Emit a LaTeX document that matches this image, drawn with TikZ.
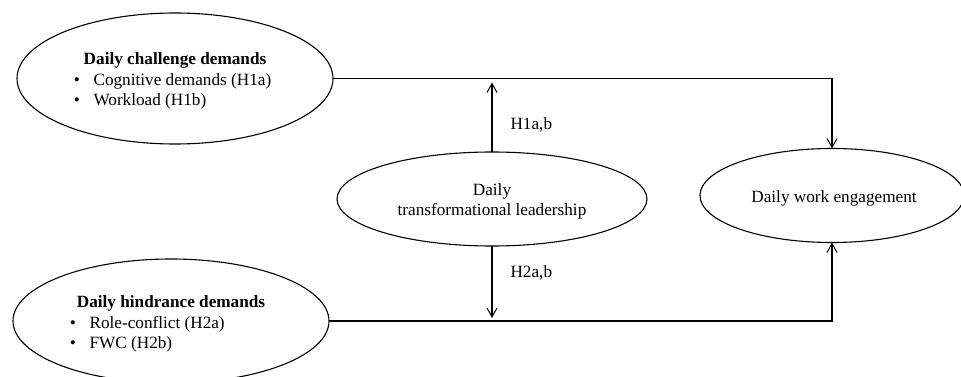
\documentclass[tikz,border=0pt]{standalone}
\usepackage{fontspec}
\setmainfont{Liberation Serif}
\usetikzlibrary{arrows.meta,shapes.geometric}
\begin{document}
\begin{tikzpicture}[x=1pt,y=-1pt,line width=1.1pt,
  oval/.style={draw,ellipse,inner sep=0pt,outer sep=0pt},
  txt/.style={inner sep=0pt,font=\fontsize{17.2}{20.5}\selectfont},
  arr/.style={-{Straight Barb[length=9pt,width=10pt,line width=1pt]}}]
\useasboundingbox (0,0) rectangle (961,377);
\clip (0,0) rectangle (961,377);
% ellipses
\node[oval,minimum width=316pt,minimum height=131pt] (C) at (175,78.5) {};
\node[oval,minimum width=316pt,minimum height=124pt] (H) at (171,321) {};
\node[oval,minimum width=310pt,minimum height=94pt] (M) at (492,199) {};
\node[oval,minimum width=264pt,minimum height=94pt] (E) at (832,195.5) {};
% texts
\node[txt,anchor=base,font=\fontsize{17.2}{20.5}\selectfont\bfseries] (ct) at (175,65) {Daily challenge demands};
\node[txt,anchor=base] (cb1) at (77,85.5) {•};
\node[txt,anchor=base west] (c1) at (93,85.5) {Cognitive demands (H1a)};
\node[txt,anchor=base] (cb2) at (77,106) {•};
\node[txt,anchor=base west] (c2) at (93,106) {Workload (H1b)};
\node[txt,anchor=base,font=\fontsize{17.2}{20.5}\selectfont\bfseries] (ht) at (171,307) {Daily hindrance demands};
\node[txt,anchor=base] (hb1) at (73,328) {•};
\node[txt,anchor=base west] (h1) at (89,328) {Role-conflict (H2a)};
\node[txt,anchor=base] (hb2) at (73,348.5) {•};
\node[txt,anchor=base west] (h2) at (89,348.5) {FWC (H2b)};
\node[txt,anchor=base] (m1) at (492,195) {Daily};
\node[txt,anchor=base] (m2) at (492,215) {transformational leadership};
\node[txt,anchor=base] (e1) at (834,202) {Daily work engagement};
\node[txt,anchor=base west] (l1) at (510,130) {H1a,b};
\node[txt,anchor=base west] (l2) at (510,277) {H2a,b};
% connectors
\coordinate (t1) at (M.north |- C.east);
\coordinate (t2) at (M.south |- H.east);
\draw[arr] (C.east) -| (E.north);
\draw[arr] (H.east) -| (E.south);
\draw[arr,shorten >=4pt] (M.north) -- (t1);
\draw[arr,shorten >=3pt] (M.south) -- (t2);
\end{tikzpicture}
\end{document}
